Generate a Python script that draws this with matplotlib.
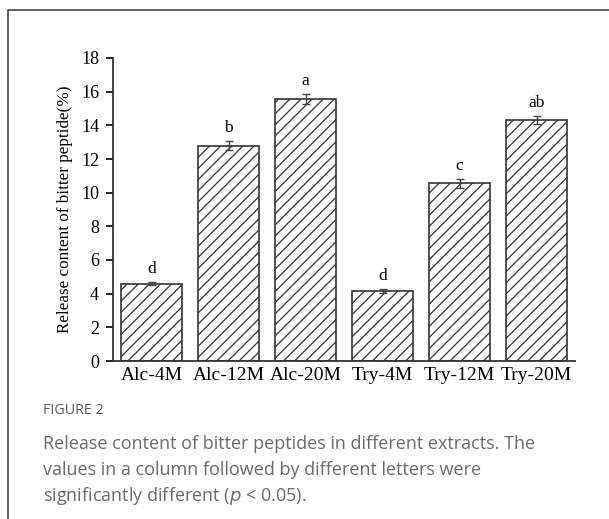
import numpy as np
import matplotlib.pyplot as plt
from matplotlib.patches import Rectangle

# extracts and release content of bitter peptides (%)
groups = ['Alc-4M', 'Alc-12M', 'Alc-20M', 'Try-4M', 'Try-12M', 'Try-20M']
release = [4.6, 12.8, 15.55, 4.15, 10.55, 14.3]
errors = [0.1, 0.25, 0.3, 0.1, 0.25, 0.25]
letters = ['d', 'b', 'a', 'd', 'c', 'ab']

W, H = 609, 519
fig = plt.figure(figsize=(W / 100, H / 100), dpi=100)

# outer frame of the figure panel
fig.patches.append(Rectangle((8 / W, -0.1), 1.2, 1 - 10 / H + 0.1,
                             transform=fig.transFigure, fill=False,
                             edgecolor='#444444', linewidth=1.2))

ax = fig.add_axes([113 / W, 1 - 361 / H, (575 - 113) / W, (361 - 58) / H])
x = np.arange(len(groups))
plt.rcParams['hatch.linewidth'] = 0.9
ax.bar(x, release, width=0.8, color='white', edgecolor='#333333',
       hatch='///', linewidth=1.2, yerr=errors,
       error_kw=dict(ecolor='#444444', capsize=3, elinewidth=1))
for xi, v, e, lt in zip(x, release, errors, letters):
    ax.text(xi, v + e + 0.3, lt, ha='center', va='bottom',
            family='Liberation Serif', fontsize=12.5)

ax.set_xlim(-0.5, 5.5)
ax.set_ylim(0, 18)
ax.set_yticks(range(0, 19, 2))
ax.set_xticks(x)
ax.set_xticklabels(groups, family='Liberation Serif', fontsize=14)
for lb in ax.get_yticklabels():
    lb.set_family('Liberation Serif')
    lb.set_fontsize(13)
ax.tick_params(axis='x', length=0, pad=4)
ax.tick_params(axis='y', direction='out', length=5, width=1.2, pad=5)
for s in ['top', 'right']:
    ax.spines[s].set_visible(False)
for s in ['left', 'bottom']:
    ax.spines[s].set_linewidth(1.3)
    ax.spines[s].set_color('#333333')
ax.set_ylabel('Release content of bitter peptide(%)', family='Liberation Serif',
              fontsize=12.3, labelpad=6)

# caption
fig.text(43 / W, 1 - 411 / H, 'FIGURE 2', family='Open Sans', fontsize=10.3,
         color='#5a5a5a', va='center')
caption = ['Release content of bitter peptides in different extracts. The',
           'values in a column followed by different letters were',
           'significantly different ($\\it{p}$ < 0.05).']
for i, line in enumerate(caption):
    fig.text(43 / W, 1 - (444 + 26 * i) / H, line, family='Open Sans',
             fontsize=13, color='#6a6a6a', va='center')

fig.savefig('out.png', dpi=100)
